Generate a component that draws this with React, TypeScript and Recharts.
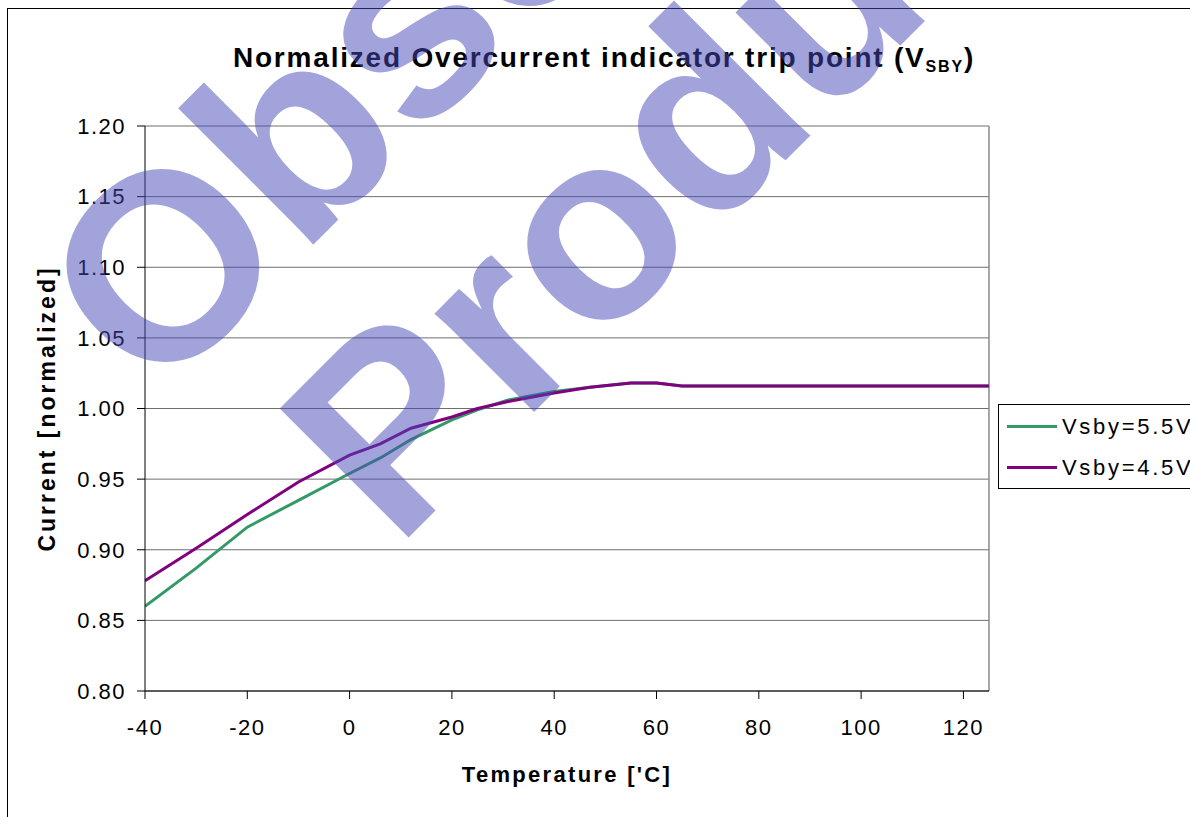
import React from "react";
import {
  LineChart,
  Line,
  XAxis,
  YAxis,
  CartesianGrid,
  Legend,
  ReferenceLine,
} from "recharts";

// Temperature in °C
const temps = [-40, -30, -20, -10, 0, 6, 12, 20, 25, 31, 40, 47, 55, 60, 65, 125];
// Normalized current, Vsby = 5.5V
const vsby55 = [0.860, 0.887, 0.916, 0.935, 0.954, 0.965, 0.978, 0.992, 0.999, 1.006, 1.012, 1.015, 1.018, 1.018, 1.016, 1.016];
// Normalized current, Vsby = 4.5V
const vsby45 = [0.878, 0.901, 0.925, 0.948, 0.967, 0.975, 0.986, 0.994, 1.000, 1.005, 1.011, 1.015, 1.018, 1.018, 1.016, 1.016];

const xTicks = [-40, -20, 0, 20, 40, 60, 80, 100, 120];
const yTicks = [0.8, 0.85, 0.9, 0.95, 1.0, 1.05, 1.1, 1.15, 1.2];

const seriesNames = ["Vsby=5.5V", "Vsby=4.5V"];
const seriesColors = ["#339966", "#800080"];

const data = temps.map((t, i) => ({ t, a: vsby55[i], b: vsby45[i] }));

const FONT = "'Liberation Sans', Arial, sans-serif";

const LegendBox = (props: any) => {
  const payload = [...(props.payload || [])].sort(
    (p: any, q: any) => seriesNames.indexOf(p.value) - seriesNames.indexOf(q.value)
  );
  return (
    <div
      style={{
        border: "1px solid #000",
        background: "#fff",
        padding: "1px 40px 0 8px",
        fontFamily: FONT,
        fontSize: 22,
        letterSpacing: 2.7,
        color: "#000",
        whiteSpace: "nowrap",
      }}
    >
      {payload.map((p: any, i: number) => (
        <div key={i} style={{ display: "flex", alignItems: "center", height: 41 }}>
          <div style={{ width: 50, height: 3, background: p.color, marginRight: 5 }} />
          <span>{p.value}</span>
        </div>
      ))}
    </div>
  );
};

export default function App() {
  return (
    <div
      style={{
        position: "absolute",
        left: 0,
        top: 0,
        width: 1190,
        height: 817,
        overflow: "hidden",
        background: "#fff",
      }}
    >
      <div
        style={{
          position: "absolute",
          left: 7,
          top: 8,
          width: 1400,
          height: 1000,
          border: "1px solid #000",
        }}
      />
      <div style={{ position: "absolute", left: 0, top: 0 }}>
        <LineChart
          width={1190}
          height={817}
          data={data}
          margin={{ top: 126, right: 201, bottom: 96, left: 85 }}
        >
          <CartesianGrid vertical={false} stroke="#6e6e6e" strokeWidth={1} />
          <ReferenceLine x={125} stroke="#8a8a8a" strokeWidth={1.5} />
          <XAxis
            dataKey="t"
            type="number"
            domain={[-40, 125]}
            ticks={xTicks}
            allowDataOverflow
            height={30}
            stroke="#000"
            tickSize={8}
            tickMargin={20}
            tick={{ fill: "#000", fontSize: 22, fontFamily: FONT, letterSpacing: 1.5 }}
            label={{
              value: "Temperature ['C]",
              position: "bottom",
              offset: 45,
              fill: "#000",
              fontSize: 22,
              fontWeight: "bold",
              fontFamily: FONT,
              letterSpacing: 2.3,
            }}
          />
          <YAxis
            type="number"
            domain={[0.8, 1.2]}
            ticks={yTicks}
            allowDataOverflow
            width={60}
            stroke="#000"
            tickSize={8}
            tickMargin={11}
            tickFormatter={(v: number) => v.toFixed(2)}
            tick={{ fill: "#000", fontSize: 22, fontFamily: FONT, letterSpacing: 1.5 }}
            label={{
              value: "Current [normalized]",
              angle: -90,
              position: "center",
              dx: -68,
              fill: "#000",
              fontSize: 23,
              fontWeight: "bold",
              fontFamily: FONT,
              letterSpacing: 3,
            }}
          />
          <Legend
            layout="vertical"
            align="center"
            verticalAlign="middle"
            content={<LegendBox />}
            wrapperStyle={{ left: 998, top: 404, width: "auto", height: "auto" }}
          />
          <Line
            type="linear"
            dataKey="a"
            name={seriesNames[0]}
            stroke={seriesColors[0]}
            strokeWidth={3}
            dot={false}
            isAnimationActive={false}
          />
          <Line
            type="linear"
            dataKey="b"
            name={seriesNames[1]}
            stroke={seriesColors[1]}
            strokeWidth={3}
            dot={false}
            isAnimationActive={false}
          />
        </LineChart>
      </div>
      <svg
        width={1190}
        height={817}
        style={{ position: "absolute", left: 0, top: 0, pointerEvents: "none" }}
      >
        <text
          x={604}
          y={67}
          textAnchor="middle"
          fontFamily={FONT}
          fontWeight="bold"
          fontSize={28}
          letterSpacing={1.8}
          fill="#000"
        >
          Normalized Overcurrent indicator trip point (V
          <tspan fontSize={16} dy={5}>SBY</tspan>
          <tspan fontSize={28} dy={-5}>)</tspan>
        </text>
      </svg>
      <svg
        width={1190}
        height={817}
        style={{ position: "absolute", left: 0, top: 0, pointerEvents: "none" }}
      >
        <g fill="#4848B8" fillOpacity={0.5} fontFamily={FONT} fontWeight="bold" fontSize={265}>
          <text x={556} y={2} textAnchor="middle" transform="rotate(-45 556 2)">
            Obsolete
          </text>
          <text x={750} y={196} textAnchor="middle" transform="rotate(-45 750 196)">
            Product
          </text>
        </g>
      </svg>
    </div>
  );
}
